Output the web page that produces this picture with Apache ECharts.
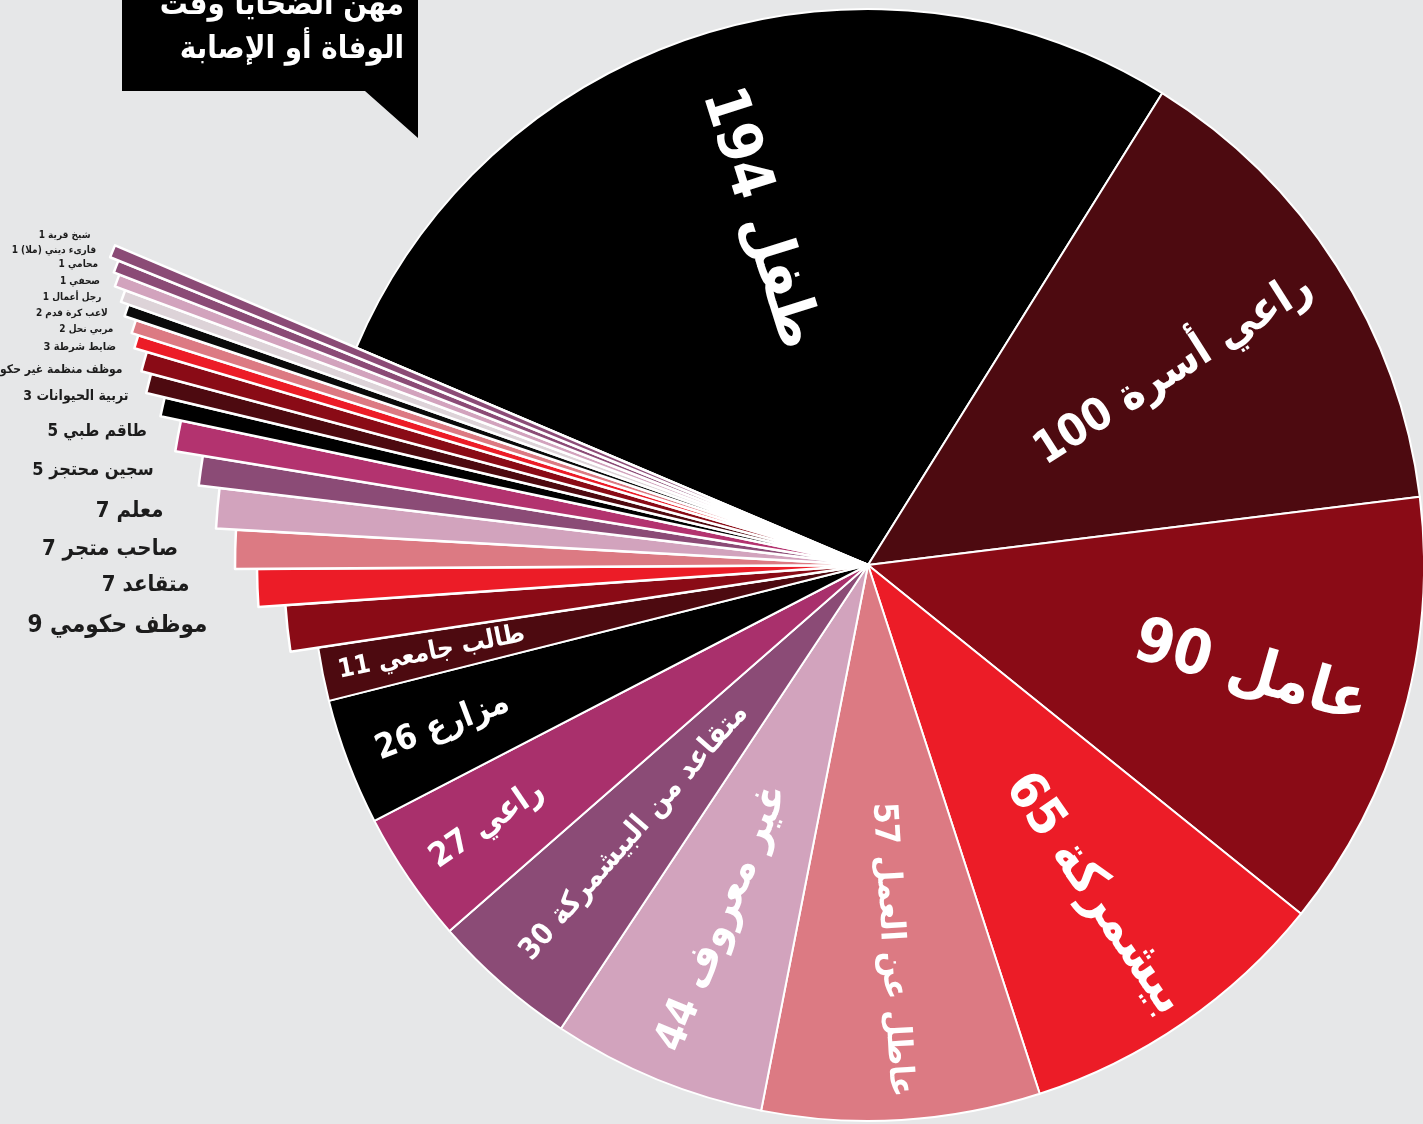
<!DOCTYPE html>
<html>
<head>
<meta charset="utf-8">
<script src="https://cdn.jsdelivr.net/npm/echarts@6/dist/echarts.min.js"></script>
<style>
html,body{margin:0;padding:0;background:#e6e7e8;overflow:hidden}
#chart{width:1423px;height:1124px}
</style>
</head>
<body>
<div id="chart"></div>
<script>
// ---------------- DATA ----------------
const categories = [
  'طفل','راعي أسرة','عامل','بيشمركة','عاطل عن العمل','غير معروف','متقاعد من البيشمركة','راعي','مزارع','طالب جامعي',
  'موظف حكومي','متقاعد','صاحب متجر','معلم','سجين محتجز','طاقم طبي','تربية الحيوانات','موظف منظمة غير حكومية',
  'ضابط شرطة','مربي نحل','لاعب كرة قدم','رجل أعمال','صحفي','محامي','قارىء ديني (ملا)','شيخ قرية'
];
const values = [194,100,90,65,57,44,30,27,26,11, 9,7,7,7,5,5,3,3,3,2,2,1,1,1,1,1];
const titleLines = ['مهن الضحايا وقت','الوفاة أو الإصابة'];

// ---------------- STYLE / LAYOUT ----------------
const sliceColors = [
  '#000000','#4d0a10','#8a0b16','#ec1c27','#dc7a83','#d2a3bd','#8b4b76','#a9306c','#000000','#4d0a10',
  '#8a0b16','#ec1c27','#dc7a83','#d2a3bd','#8b4b76','#b3336f','#000000','#4d0a10',
  '#8a0b16','#ec1c27','#dc7a83','#0a0a0a','#ddd3d8','#d2a3bd','#8b4b76','#8b4b76'
];
const bigCount = 10;
const CX = 868, CY = 565, R = 556, START = 157, MIN_ANGLE = 0.9;
const FONT = '"DejaVu Sans Condensed","DejaVu Sans",sans-serif';
const bigLabelLength = [270,320,240,280,295,285,330,130,140,190];
const bigLabelOuter  = [495,520,515,537,530,521,517,523,522,537];
const stripRadius   = [584,611,633,653,674,702,723,742,752,765,772,784,792,803,809,818];
const stripLabelGap = [80,68,57,54,47,31,34,26,28,23,26,25,23,19,20,22];
const stripFontSize = [24,22,22,22,18,17,14,12,11,10,10,10,10,10,10,10];
const stripLabelLift = [3,3,0,-3,0,4,10,14,14,12,13,13,15,16,16,16];

// label text in visual order for LTR canvas (number on the left, as in RTL reading)
function labelText(i){ return values[i] + ' ' + categories[i] + '\u200F'; }

const mctx = document.createElement('canvas').getContext('2d');
function textWidth(t, size){ mctx.font = 'bold ' + size + 'px ' + FONT; return mctx.measureText(t).width; }

// replicate pie angle layout (to know which side each label is on)
function sliceMids(vals){
  const sum = vals.reduce((a,b)=>a+b,0);
  const PI2 = Math.PI*2, minA = MIN_ANGLE*Math.PI/180;
  let unit = PI2/sum, rest = PI2, big = 0;
  const ang = vals.map(v => { const a = v*unit; if (a < minA){ rest -= minA; return minA; } big += v; return a; });
  if (rest < PI2){ unit = rest/big; for (let i=0;i<ang.length;i++) if (ang[i] !== minA) ang[i] = vals[i]*unit; }
  let cur = -START*Math.PI/180; const mids = [];
  ang.forEach(a => { mids.push(cur + a/2); cur += a; });
  return mids;
}
const mids = sliceMids(values);

function bigLabel(i){
  const t = labelText(i);
  const fs = bigLabelLength[i] / textWidth(t, 100) * 100;
  const w = textWidth(t, fs);
  const mid = mids[i];
  const dx = Math.cos(mid);
  const rot = (dx < 0 ? (-mid + Math.PI) : -mid) * 180 / Math.PI;
  const o = (bigLabelOuter[i] - w/2) - R/2;
  let pad;
  if (dx >= 0) pad = o >= 0 ? [0,0,0,2*o] : [0,-2*o,0,0];
  else pad = o >= 0 ? [0,2*o,0,0] : [0,0,0,-2*o];
  return {
    show: true, position: 'inside', formatter: t, rotate: rot,
    color: '#ffffff', fontWeight: 'bold', fontSize: fs, fontFamily: FONT, padding: pad
  };
}

const hidden = { color: 'rgba(0,0,0,0)', borderWidth: 0 };

const mainData = values.map((v,i) => ({
  value: v, name: categories[i],
  itemStyle: { color: i < bigCount ? sliceColors[i] : '#ffffff' },
  label: i < bigCount ? bigLabel(i) : { show: false }
}));

const common = {
  type: 'pie', center: [CX, CY], startAngle: START, minAngle: MIN_ANGLE, clockwise: true,
  avoidLabelOverlap: false, silent: true, emphasis: { disabled: true }, animation: false
};

const series = [Object.assign({}, common, {
  radius: [0, R],
  itemStyle: { borderColor: '#ffffff', borderWidth: 2 },
  labelLine: { show: false },
  data: mainData
})];

for (let k = 0; k < values.length - bigCount; k++){
  const idx = bigCount + k;
  series.push(Object.assign({}, common, {
    radius: [0, stripRadius[k]],
    z: 3 + k,
    labelLayout: { dy: -stripLabelLift[k] },
    data: values.map((v,i) => i === idx ? {
      value: v, name: categories[i],
      itemStyle: { color: sliceColors[i], borderColor: '#ffffff', borderWidth: 2.5 },
      label: {
        show: true, position: 'outside', formatter: labelText(i),
        color: '#1c1c1c', fontWeight: 'bold', fontSize: stripFontSize[k], fontFamily: FONT,
        distanceToLabelLine: 0
      },
      labelLine: { show: false, length: 0, length2: stripLabelGap[k] }
    } : {
      value: v, name: categories[i], itemStyle: hidden, label: { show: false }, labelLine: { show: false }
    })
  }));
}

const chart = echarts.init(document.getElementById('chart'), null, { renderer: 'canvas' });
chart.setOption({
  backgroundColor: '#e6e7e8',
  animation: false,
  graphic: [
    { type: 'polygon', z: 100, shape: { points: [[122,-10],[418,-10],[418,138],[365,91],[122,91]] }, style: { fill: '#000000' } },
    { type: 'text', z: 101, x: 404, y: 72,
      style: { text: titleLines.join('\n'), fill: '#ffffff', font: 'bold 31px ' + FONT, align: 'right', verticalAlign: 'bottom', lineHeight: 44 } }
  ],
  series: series
});
</script>
</body>
</html>
